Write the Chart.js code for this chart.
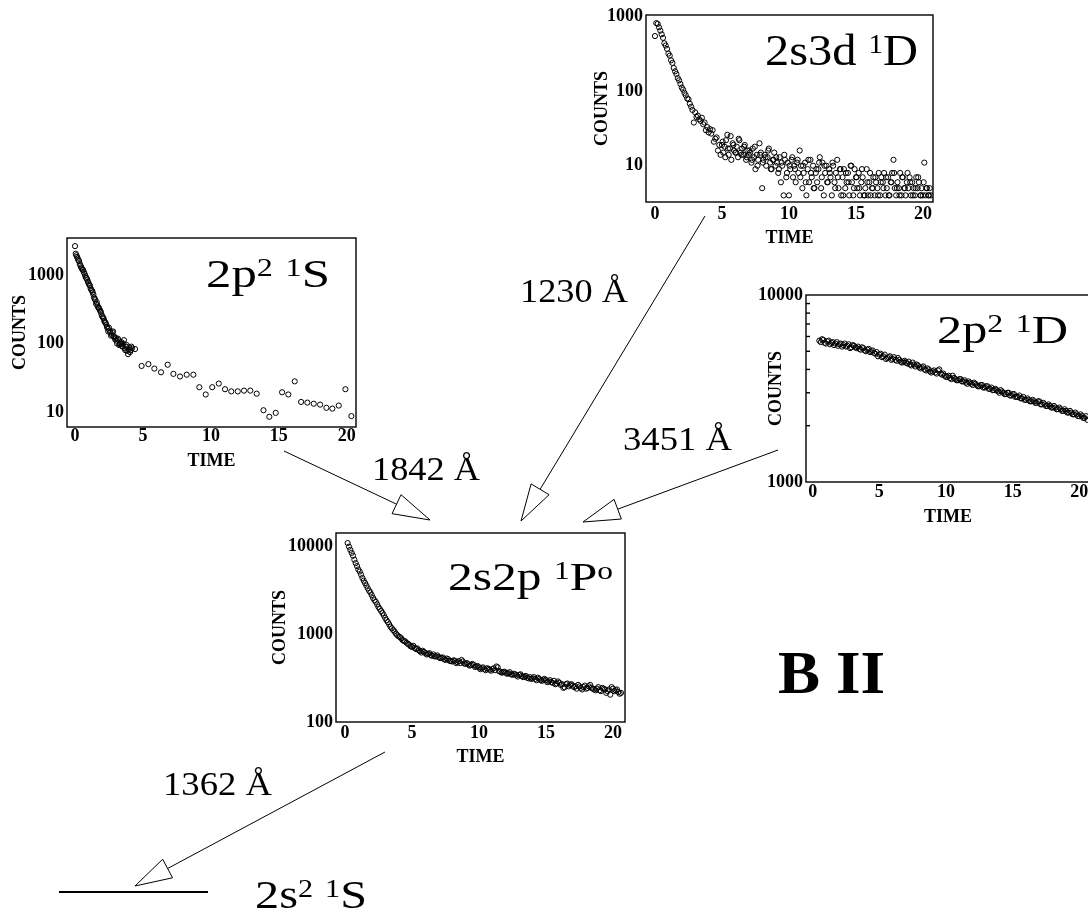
<!DOCTYPE html>
<html>
<head>
<meta charset="utf-8">
<script src="https://cdn.jsdelivr.net/npm/chart.js@4.4.1/dist/chart.umd.min.js"></script>
<style>
html, body { margin: 0; padding: 0; background: #fff; width: 1088px; height: 915px; overflow: hidden; position: relative; }
canvas { position: absolute; }
svg { position: absolute; left: 0; top: 0; pointer-events: none; }
</style>
</head>
<body>
<canvas id="c2p2S"></canvas>
<canvas id="c2s3d"></canvas>
<canvas id="c2p2D"></canvas>
<canvas id="c2s2p"></canvas>

<svg id="diagram" width="1088" height="915" font-family="'Liberation Serif', 'Times New Roman', serif" fill="#000">
  <text x="206" y="287" font-size="41" textLength="124" lengthAdjust="spacingAndGlyphs">2p<tspan font-size="26" dy="-11">2</tspan><tspan dy="11"> </tspan><tspan font-size="26" dy="-11">1</tspan><tspan dy="11">S</tspan></text>
  <text x="765" y="65" font-size="45" textLength="153" lengthAdjust="spacingAndGlyphs">2s3d<tspan> </tspan><tspan font-size="27" dy="-12">1</tspan><tspan dy="12">D</tspan></text>
  <text x="937" y="343" font-size="41" textLength="131" lengthAdjust="spacingAndGlyphs">2p<tspan font-size="26" dy="-11">2</tspan><tspan dy="11"> </tspan><tspan font-size="26" dy="-11">1</tspan><tspan dy="11">D</tspan></text>
  <text x="448" y="590" font-size="41" textLength="165" lengthAdjust="spacingAndGlyphs">2s2p<tspan> </tspan><tspan font-size="26" dy="-11">1</tspan><tspan dy="11">P</tspan><tspan font-size="26" dy="-11">o</tspan></text>
  <text x="255" y="908" font-size="40" textLength="112" lengthAdjust="spacingAndGlyphs">2s<tspan font-size="25" dy="-11">2</tspan><tspan dy="11"> </tspan><tspan font-size="25" dy="-11">1</tspan><tspan dy="11">S</tspan></text>

  <text x="520" y="302" font-size="34" textLength="108" lengthAdjust="spacingAndGlyphs">1230 Å</text>
  <text x="372" y="480" font-size="34" textLength="108" lengthAdjust="spacingAndGlyphs">1842 Å</text>
  <text x="623" y="450" font-size="34" textLength="109" lengthAdjust="spacingAndGlyphs">3451 Å</text>
  <text x="163" y="795" font-size="34" textLength="109" lengthAdjust="spacingAndGlyphs">1362 Å</text>

  <text x="778" y="693" font-size="62" font-weight="bold" textLength="107" lengthAdjust="spacingAndGlyphs">B II</text>

  <line x1="59" y1="892" x2="208" y2="892" stroke="#000" stroke-width="2.2"/>
</svg>

<script>
// time axis ticks shared by all four decay curves
const xTicks = [0, 5, 10, 15, 20];

// 2p2 1S
const t2p2S = [0,0.1,0.2,0.3,0.4,0.5,0.6,0.7,0.8,0.9,1,1.1,1.2,1.3,1.4,1.5,1.6,1.7,1.8,1.9,
  2,2.1,2.2,2.3,2.4,2.5,2.6,2.7,2.8,2.9,3,3.1,3.2,3.3,3.4,3.5,3.6,3.7,3.8,3.9,4,4.1,4.2,
  0.05,0.15,0.25,0.35,0.45,0.55,0.65,0.75,0.85,0.95,1.05,1.15,1.25,1.35,1.45,1.55,1.65,1.75,1.85,1.95,
  2.05,2.15,2.25,2.35,2.45,2.55,2.65,2.75,2.85,2.95,3.05,3.15,3.25,3.35,3.45,3.55,3.65,3.75,3.85,3.95,4.05,4.15,
  4.42,4.9,5.4,5.84,6.33,6.82,7.24,7.73,8.22,8.71,9.15,9.62,10.1,10.58,11.04,11.5,11.98,12.44,12.9,13.37,
  13.87,14.3,14.77,15.24,15.7,16.17,16.64,17.1,17.57,18.04,18.5,18.94,19.41,19.9,20.34];
const n2p2S = [2650,1950,1750,1600,1380,1250,1180,1050,920,860,760,700,610,560,470,430,400,340,320,290,
  250,235,205,190,165,170,145,135,150,125,120,100,112,98,105,90,112,80,95,70,88,80,85,
  2050,1850,1650,1450,1300,1200,1100,980,900,800,720,640,590,520,450,380,360,330,300,265,
  240,215,200,175,150,155,130,145,128,115,110,118,95,100,92,100,85,90,78,82,75,90,
  83,47,50,43,38,49,36,33,35,35,23,18,23,26,21.5,20,20,20.5,20.5,18.5,
  10.6,8.5,9.7,19.4,18,28,14,13.7,13.2,12.8,11.5,11.2,12.4,21.5,8.7];
const y2p2S = [10, 100, 1000];

// 2s3d 1D
const t2s3d = [0,0.1,0.2,0.3,0.4,0.5,0.6,0.7,0.8,0.9,
  1,1.1,1.2,1.3,1.4,1.5,1.6,1.7,1.8,1.9,
  2,2.1,2.2,2.3,2.4,2.5,2.6,2.7,2.8,2.9,
  3,3.1,3.2,3.3,3.4,3.5,3.6,3.7,3.8,3.9,
  4,4.1,4.2,4.3,4.4,4.5,4.6,4.7,4.8,4.9,
  5,5.1,5.2,5.3,5.4,5.5,5.6,5.7,5.8,5.9,
  6,6.1,6.2,6.3,6.4,6.5,6.6,6.7,6.8,6.9,
  7,7.1,7.2,7.3,7.4,7.5,7.6,7.7,7.8,7.9,
  8,8.1,8.2,8.3,8.4,8.5,8.6,8.7,8.8,8.9,
  9,9.1,9.2,9.3,9.4,9.5,9.6,9.7,9.8,9.9,
  10,10.1,10.2,10.3,10.4,10.5,10.6,10.7,10.8,10.9,
  11,11.1,11.2,11.3,11.4,11.5,11.6,11.7,11.8,11.9,
  12,12.1,12.2,12.3,12.4,12.5,12.6,12.7,12.8,12.9,
  13,13.1,13.2,13.3,13.4,13.5,13.6,13.7,13.8,13.9,
  14,14.1,14.2,14.3,14.4,14.5,14.6,14.7,14.8,14.9,
  15,15.1,15.2,15.3,15.4,15.5,15.6,15.7,15.8,15.9,
  16,16.1,16.2,16.3,16.4,16.5,16.6,16.7,16.8,16.9,
  17,17.1,17.2,17.3,17.4,17.5,17.6,17.7,17.8,17.9,
  18,18.1,18.2,18.3,18.4,18.5,18.6,18.7,18.8,18.9,
  19,19.1,19.2,19.3,19.4,19.5,19.6,19.7,19.8,19.9,
  20,20.1,20.2,20.3,20.4,20.5,20.6,
  5.05,5.25,5.45,5.65,5.85,6.05,6.25,6.45,6.65,6.85,
  7.05,7.25,7.45,7.65,7.85,8.05,8.25,8.45,8.65,8.85,
  9.05,9.25,9.45,9.65,9.85,10.05,10.25,10.45,10.65,10.85,
  11.05,11.25,11.45,11.65,11.85,12.05,12.25,12.45,12.65,12.85,
  13.05,13.25,13.45,13.65,13.85,14.05,14.25,14.45,14.65,14.85,
  15.05,15.25,15.45,15.65,15.85,16.05,16.25,16.45,16.65,16.85,
  17.05,17.25,17.45,17.65,17.85,18.05,18.25,18.45,18.65,18.85,
  19.05,19.25,19.45,19.65,19.85,20.05,20.25,20.45];
const n2s3d = [550,820,800,720,650,580,520,440,410,370,
  320,300,260,240,205,185,170,150,140,125,
  112,105,95,88,80,78,68,62,56,38,
  52,45,47,42,40,44,36,38,30,33,
  28,31,27,30,21,23,24,16,19,14,
  19,15,18,22,26,14,17,12,20,16,
  15,18,13,22,15,17,14,19,12,16,
  14,15,11,17,13,9,14,12,20,15,
  5,12,14,10,13,17,11,9,12,15,
  10,11,8,13,6,10,4,12,7,11,
  4,9,12,7,10,6,11,8,16,10,
  5,8,11,4,9,6,12,7,10,5,
  8,6,9,13,5,11,4,8,10,6,
  9,7,4,10,6,8,12,5,9,4,
  7,9,5,6,8,4,10,6,4,9,
  7,5,8,4,6,7,4,5,9,4,
  6,4,5,7,4,6,5,8,4,7,
  6,8,4,5,7,4,6,8,12,5,
  4,6,5,8,4,7,5,4,6,5,
  7,4,6,5,4,7,5,6,4,5,
  4,11,4,5,4,5,4,
  21,13,17,25,19,15,23,14,18,13,
  16,12,18,10,14,11,13,16,9,12,
  13,9,11,14,8,10,13,9,12,7,
  10,6,12,8,5,9,11,7,10,6,
  8,11,5,7,9,4,8,6,10,5,
  7,5,9,4,6,8,5,7,4,6,
  5,7,4,6,8,5,4,7,5,8,
  6,4,5,7,4,6,5,4];
const y2s3d = [10, 100, 1000];

// 2p2 1D
const t2p2D = [0.5,0.7,0.9,1.1,1.3,1.5,1.7,1.9,2.1,2.3,2.5,2.7,2.9,3.1,3.3,3.5,3.7,3.9,4.1,4.3,
  4.5,4.7,4.9,5.1,5.3,5.5,5.7,5.9,6.1,6.3,6.5,6.7,6.9,7.1,7.3,7.5,7.7,7.9,8.1,8.3,
  8.5,8.7,8.9,9.1,9.3,9.5,9.7,9.9,10.1,10.3,10.5,10.7,10.9,11.1,11.3,11.5,11.7,11.9,12.1,12.3,
  12.5,12.7,12.9,13.1,13.3,13.5,13.7,13.9,14.1,14.3,14.5,14.7,14.9,15.1,15.3,15.5,15.7,15.9,16.1,16.3,
  16.5,16.7,16.9,17.1,17.3,17.5,17.7,17.9,18.1,18.3,18.5,18.7,18.9,19.1,19.3,19.5,19.7,19.9,20.1,20.3,20.5,
  0.6,0.8,1,1.2,1.4,1.6,1.8,2,2.2,2.4,2.6,2.8,3,3.2,3.4,3.6,3.8,4,4.2,4.4,
  4.6,4.8,5,5.2,5.4,5.6,5.8,6,6.2,6.4,6.6,6.8,7,7.2,7.4,7.6,7.8,8,8.2,8.4,
  8.6,8.8,9,9.2,9.4,9.6,9.8,10,10.2,10.4,10.6,10.8,11,11.2,11.4,11.6,11.8,12,12.2,12.4,
  12.6,12.8,13,13.2,13.4,13.6,13.8,14,14.2,14.4,14.6,14.8,15,15.2,15.4,15.6,15.8,16,16.2,16.4,
  16.6,16.8,17,17.2,17.4,17.6,17.8,18,18.2,18.4,18.6,18.8,19,19.2,19.4,19.6,19.8,20,20.2,20.4,20.6];
const n2p2D = [5700,5800,5550,5650,5450,5600,5500,5350,5500,5400,
  5300,5450,5250,5350,5200,5150,5250,5050,5100,4950,
  5050,4850,4700,4850,4700,4550,4650,4500,4650,4450,
  4500,4350,4450,4300,4250,4350,4150,4200,4050,4150,
  3950,4000,3850,3950,3800,4000,3750,3700,3650,3600,
  3700,3550,3500,3550,3450,3400,3450,3350,3400,3300,
  3250,3300,3200,3250,3150,3100,3150,3050,3100,3000,
  2950,3000,2900,2950,2850,2900,2800,2750,2800,2700,
  2750,2650,2700,2600,2650,2550,2600,2500,2550,2450,
  2500,2400,2450,2350,2400,2300,2350,2250,2300,2200,
  2250,
  5600,5750,5500,5700,5550,5400,5600,5450,5300,5500,
  5350,5200,5400,5250,5300,5100,5200,5000,5150,5000,
  4900,4950,4800,4650,4800,4600,4700,4550,4500,4600,
  4400,4400,4350,4400,4200,4250,4250,4100,4100,4000,
  4050,3900,3900,3850,3950,3800,3800,3650,3700,3550,
  3600,3500,3550,3450,3500,3350,3400,3300,3350,3250,
  3300,3200,3250,3150,3200,3100,3100,3000,3050,2950,
  3000,2900,2950,2850,2850,2800,2850,2750,2750,2700,
  2700,2650,2700,2600,2600,2550,2550,2500,2500,2450,
  2450,2400,2400,2350,2350,2300,2300,2250,2250,2200,
  2150];
const y2p2D = [1000, 10000];
const minor2p2D = [2000, 3000, 4000, 5000, 6000, 7000, 8000, 9000];

// 2s2p 1Po
const t2s2p = [0.2,0.4,0.6,0.8,1,1.2,1.4,1.6,1.8,2,
  2.2,2.4,2.6,2.8,3,3.2,3.4,3.6,3.8,4,
  4.2,4.4,4.6,4.8,5,5.2,5.4,5.6,5.8,6,
  6.2,6.4,6.6,6.8,7,7.2,7.4,7.6,7.8,8,
  8.2,8.4,8.6,8.8,9,9.2,9.4,9.6,9.8,10,
  10.2,10.4,10.6,10.8,11,11.2,11.4,11.6,11.8,12,
  12.2,12.4,12.6,12.8,13,13.2,13.4,13.6,13.8,14,
  14.2,14.4,14.6,14.8,15,15.2,15.4,15.6,15.8,16,
  16.2,16.4,16.6,16.8,17,17.2,17.4,17.6,17.8,18,
  18.2,18.4,18.6,18.8,19,19.2,19.4,19.6,19.8,20,
  20.2,20.4,20.6,
  0.3,0.5,0.7,0.9,1.1,1.3,1.5,1.7,1.9,2.1,
  2.3,2.5,2.7,2.9,3.1,3.3,3.5,3.7,3.9,4.1,
  4.3,4.5,4.7,4.9,5.1,5.3,5.5,5.7,5.9,6.1,
  6.3,6.5,6.7,6.9,7.1,7.3,7.5,7.7,7.9,8.1,
  8.3,8.5,8.7,8.9,9.1,9.3,9.5,9.7,9.9,10.1,
  10.3,10.5,10.7,10.9,11.1,11.3,11.5,11.7,11.9,12.1,
  12.3,12.5,12.7,12.9,13.1,13.3,13.5,13.7,13.9,14.1,
  14.3,14.5,14.7,14.9,15.1,15.3,15.5,15.7,15.9,16.1,
  16.3,16.5,16.7,16.9,17.1,17.3,17.5,17.7,17.9,18.1,
  18.3,18.5,18.7,18.9,19.1,19.3,19.5,19.7,19.9,20.1,
  20.3,20.5];
const n2s2p = [11000,9200,7900,6500,5500,4800,4100,3600,3150,2800,
  2450,2200,1950,1750,1540,1380,1220,1120,1020,950,
  900,840,800,760,720,700,690,640,650,610,
  600,580,590,560,550,540,520,530,500,490,
  500,480,470,490,460,455,445,450,430,420,
  410,400,410,395,400,390,420,375,370,365,
  360,350,355,340,345,335,330,320,325,315,
  310,320,300,305,300,290,285,295,275,280,
  270,250,275,265,260,255,265,245,250,240,
  255,245,235,240,230,245,235,225,205,240,
  230,220,215,
  10000,8500,7100,6000,5200,4400,3850,3350,3000,2600,
  2350,2050,1850,1650,1450,1300,1170,1080,980,930,
  860,830,780,730,740,680,660,620,630,590,
  610,570,560,575,535,545,510,520,495,505,
  470,495,510,465,470,440,460,425,435,400,
  420,390,405,385,410,430,380,365,375,355,
  370,345,350,330,350,325,335,315,310,325,
  300,310,295,310,285,300,280,270,290,265,
  245,270,255,270,250,240,255,235,260,245,
  265,240,230,250,225,240,215,235,250,225,
  235,210];
const y2s2p = [100, 1000, 10000];

// panel placement on the page
const panels = {
  p2p2S: { box: { x: 0, y: 225, w: 370, h: 250 }, area: { l: 67, t: 238, r: 356, b: 427 }, x: [-0.59, 20.68], y: [6.03, 3480], countsX: 20, timeY: 461, xPad: -1 },
  p2s3d: { box: { x: 580, y: 3, w: 365, h: 249 }, area: { l: 646, t: 15, r: 933, b: 202 }, x: [-0.67, 20.75], y: [3.26, 1054], countsX: 602, timeY: 238, xPad: 2 },
  p2p2D: { box: { x: 745, y: 285, w: 360, h: 246 }, area: { l: 806, t: 295, r: 1090, b: 482 }, x: [-0.5, 20.8], y: [1000, 10000], countsX: 776, timeY: 517, xPad: 0 },
  p2s2p: { box: { x: 250, y: 520, w: 390, h: 255 }, area: { l: 336, t: 533, r: 625, b: 722 }, x: [-0.67, 20.9], y: [100, 14330], countsX: 280, timeY: 757, xPad: 1 }
};

const framePlugin = {
  id: 'frame',
  afterDatasetsDraw(chart, args, opts) {
    const a = chart.chartArea, ctx = chart.ctx;
    ctx.save();
    ctx.strokeStyle = '#000';
    ctx.lineWidth = 1.4;
    ctx.strokeRect(a.left, a.top, a.right - a.left, a.bottom - a.top);
    (opts.minor || []).forEach(v => {
      const y = chart.scales.y.getPixelForValue(v);
      ctx.beginPath(); ctx.moveTo(a.left, y); ctx.lineTo(a.left + 4, y); ctx.stroke();
    });
    ctx.restore();
  }
};

function drawPanel(id, p, times, counts, yTicks, minor) {
  const cv = document.getElementById(id);
  cv.width = p.box.w; cv.height = p.box.h;
  cv.style.left = p.box.x + 'px'; cv.style.top = p.box.y + 'px';
  const fnt = { family: "'Liberation Serif', 'Times New Roman', serif", size: 18, weight: 'bold', lineHeight: 1.2 };
  const lh = 18 * 1.2;

  new Chart(cv, {
    type: 'scatter',
    data: {
      datasets: [{
        data: times.map((t, i) => ({ x: t, y: counts[i] })),
        pointRadius: 2.6, pointHoverRadius: 2.6, pointBorderWidth: 1,
        borderColor: '#000', backgroundColor: 'rgba(0,0,0,0)'
      }]
    },
    options: {
      responsive: false, animation: false, events: [],
      layout: { padding: { left: 0, top: p.area.t - p.box.y, right: p.box.x + p.box.w - p.area.r, bottom: 0 } },
      plugins: { legend: { display: false }, tooltip: { enabled: false }, frame: { minor: minor } },
      scales: {
        x: {
          type: 'linear', min: p.x[0], max: p.x[1],
          grid: { display: false, drawTicks: false }, border: { display: false },
          afterBuildTicks: s => { s.ticks = xTicks.map(v => ({ value: v })); },
          afterFit: s => { s.height = p.box.y + p.box.h - p.area.b; s.paddingLeft = 0; s.paddingRight = 0; },
          ticks: { font: fnt, color: '#000', padding: p.xPad, maxRotation: 0, autoSkip: false },
          title: { display: true, text: 'TIME', font: fnt, color: '#000', padding: { top: 0, bottom: p.box.y + p.box.h - p.timeY - lh / 2 } }
        },
        y: {
          type: 'logarithmic', min: p.y[0], max: p.y[1],
          grid: { display: false, drawTicks: false }, border: { display: false },
          afterBuildTicks: s => { s.ticks = yTicks.map(v => ({ value: v })); },
          afterFit: s => { s.width = p.area.l - p.box.x; s.paddingTop = 0; s.paddingBottom = 0; },
          ticks: { font: fnt, color: '#000', padding: 3, autoSkip: false, callback: v => String(v) },
          title: { display: true, text: 'COUNTS', font: fnt, color: '#000', padding: { top: p.countsX - p.box.x - lh / 2, bottom: 0 } }
        }
      }
    },
    plugins: [framePlugin]
  });
}

drawPanel('c2p2S', panels.p2p2S, t2p2S, n2p2S, y2p2S, []);
drawPanel('c2s3d', panels.p2s3d, t2s3d, n2s3d, y2s3d, []);
drawPanel('c2p2D', panels.p2p2D, t2p2D, n2p2D, y2p2D, minor2p2D);
drawPanel('c2s2p', panels.p2s2p, t2s2p, n2s2p, y2s2p, []);

// transition arrows with open heads
const arrows = [
  { from: [284, 451], to: [430, 520] },
  { from: [705, 216], to: [521, 521] },
  { from: [778, 450], to: [583, 522] },
  { from: [385, 752], to: [135, 886] }
];
const NS = 'http://www.w3.org/2000/svg';
const svg = document.getElementById('diagram');
arrows.forEach(a => {
  const dx = a.to[0] - a.from[0], dy = a.to[1] - a.from[1];
  const len = Math.hypot(dx, dy), ux = dx / len, uy = dy / len;
  const hl = 37, hw = 10.5;
  const bx = a.to[0] - ux * hl, by = a.to[1] - uy * hl;
  const ln = document.createElementNS(NS, 'line');
  ln.setAttribute('x1', a.from[0]); ln.setAttribute('y1', a.from[1]);
  ln.setAttribute('x2', bx); ln.setAttribute('y2', by);
  ln.setAttribute('stroke', '#000'); ln.setAttribute('stroke-width', '1');
  svg.appendChild(ln);
  const head = document.createElementNS(NS, 'polygon');
  head.setAttribute('points', [a.to[0] + ',' + a.to[1], (bx - uy * hw) + ',' + (by + ux * hw), (bx + uy * hw) + ',' + (by - ux * hw)].join(' '));
  head.setAttribute('fill', '#fff'); head.setAttribute('stroke', '#000'); head.setAttribute('stroke-width', '1');
  svg.appendChild(head);
});
</script>
</body>
</html>
